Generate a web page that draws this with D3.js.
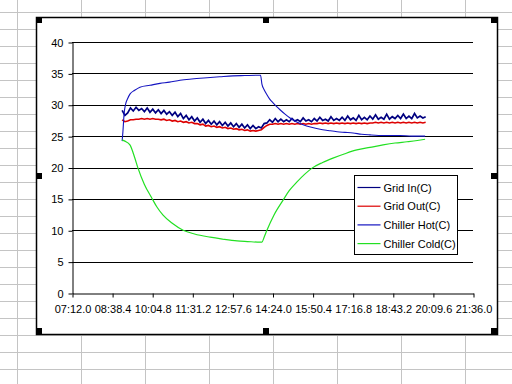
<!DOCTYPE html>
<head>
  <meta charset="utf-8">
  <style>
    body { margin: 0; background: #fff; }
    text { font-family: 'Liberation Sans', Arial, sans-serif; font-size: 11px; fill: black; }
  </style>
</head>
<body>
  <script src="https://cdn.jsdelivr.net/npm/d3@7"></script>
  <script>
    // x axis ticks (hours) and their Excel style labels
    const tickHours = [7.2, 8.64, 10.08, 11.52, 12.96, 14.4, 15.84, 17.28, 18.72, 20.16, 21.6];
    const tickLabels = ['07:12.0', '08:38.4', '10:04.8', '11:31.2', '12:57.6', '14:24.0',
                        '15:50.4', '17:16.8', '18:43.2', '20:09.6', '21:36.0'];
    const yTicks = [0, 5, 10, 15, 20, 25, 30, 35, 40];

    // Grid In / Grid Out share one time base (every 0.1 h from 9.0 to 19.9)
    const gridTime = d3.range(90, 200).map(d => d / 10);
    const gridIn = [
      29.1, 28.3, 28.7, 29.5, 29.0, 29.6, 29.1, 29.4, 28.9, 29.5,
      28.8, 29.3, 28.7, 29.2, 28.6, 29.1, 28.5, 28.9, 28.3, 28.8,
      28.1, 28.6, 27.8, 28.3, 27.6, 28.1, 27.4, 27.9, 27.2, 27.7,
      27.0, 27.5, 26.9, 27.4, 26.8, 27.3, 26.7, 27.2, 26.6, 27.1,
      26.5, 27.0, 26.4, 26.9, 26.3, 26.8, 26.2, 26.7, 26.2, 26.5,
      26.3, 27.0, 27.1, 27.6, 27.2, 27.8, 27.3, 27.7, 27.3, 27.6,
      27.3, 27.8, 27.4, 27.6, 27.3, 27.9, 27.4, 27.6, 27.3, 27.8,
      27.4, 28.0, 27.5, 27.7, 27.4, 28.1, 27.5, 27.8, 27.5, 28.0,
      27.5, 28.2, 27.6, 27.9, 27.5, 28.3, 27.6, 28.0, 27.6, 28.2,
      27.7, 28.4, 27.7, 28.0, 27.7, 28.5, 27.7, 28.1, 27.8, 28.3,
      27.8, 28.5, 27.8, 28.2, 27.8, 28.6, 27.9, 28.2, 27.9, 28.1
    ];
    const gridOut = [
      27.6, 27.3, 27.4, 27.6, 27.6, 27.7, 27.7, 27.8, 27.7, 27.8,
      27.7, 27.8, 27.7, 27.7, 27.6, 27.7, 27.5, 27.6, 27.4, 27.5,
      27.3, 27.4, 27.2, 27.3, 27.1, 27.2, 27.0, 27.0, 26.8, 26.9,
      26.6, 26.7, 26.5, 26.6, 26.4, 26.5, 26.3, 26.4, 26.2, 26.3,
      26.1, 26.2, 26.0, 26.1, 25.9, 26.0, 25.8, 25.9, 25.8, 25.9,
      26.0, 26.4, 26.7, 26.9, 26.9, 27.0, 26.9, 27.0, 26.9, 27.0,
      26.9, 27.0, 26.9, 27.0, 26.9, 27.0, 26.9, 27.0, 26.9, 27.0,
      27.0, 27.1, 27.0, 27.1, 27.0, 27.1, 27.0, 27.1, 27.0, 27.1,
      27.0, 27.1, 27.0, 27.1, 27.0, 27.1, 27.0, 27.1, 27.0, 27.1,
      27.1, 27.2, 27.1, 27.2, 27.1, 27.2, 27.1, 27.2, 27.1, 27.2,
      27.1, 27.2, 27.1, 27.2, 27.1, 27.2, 27.1, 27.2, 27.1, 27.2
    ];

    const hotTime = [9.0, 9.03, 9.07, 9.12, 9.2, 9.28, 9.45, 9.64, 10.0, 10.36, 10.7, 11.08, 11.5,
                     12.05, 12.5, 12.98, 13.4, 13.9, 13.97, 14.02, 14.1, 14.2, 14.3, 14.42, 14.55,
                     14.67, 14.85, 15.03, 15.25, 15.5, 15.8, 16.11, 16.4, 16.72, 17.0, 17.29, 17.6,
                     17.9, 18.4, 18.98, 19.4, 19.88];
    const chillerHot = [24.2, 25.8, 28.5, 30.0, 31.0, 31.7, 32.3, 32.8, 33.1, 33.4, 33.6, 33.9, 34.1,
                        34.3, 34.45, 34.6, 34.65, 34.7, 34.7, 33.3, 32.4, 31.6, 30.9, 30.3, 29.7,
                        29.2, 28.5, 27.9, 27.3, 26.8, 26.4, 26.1, 25.9, 25.7, 25.6, 25.5, 25.3,
                        25.2, 25.1, 25.1, 25.0, 25.0];

    const coldTime = [9.0, 9.1, 9.28, 9.45, 9.57, 9.8, 10.07, 10.25, 10.47, 10.8, 11.19, 11.6, 12.16,
                      12.6, 13.13, 13.5, 13.95, 14.02, 14.1, 14.2, 14.45, 14.78, 15.0, 15.28, 15.55,
                      15.82, 16.2, 16.57, 17.0, 17.43, 17.9, 18.37, 18.8, 19.23, 19.6, 19.88];
    const chillerCold = [24.4, 24.2, 23.6, 21.6, 19.9, 17.3, 15.1, 13.7, 12.4, 11.1, 10.0, 9.4, 8.9,
                         8.6, 8.3, 8.2, 8.1, 8.1, 8.9, 10.0, 12.4, 14.8, 16.3, 17.7, 18.9,
                         19.9, 20.8, 21.5, 22.2, 22.8, 23.2, 23.6, 23.9, 24.1, 24.3, 24.5];

    const seriesNames = ['Grid In(C)', 'Grid Out(C)', 'Chiller Hot(C)', 'Chiller Cold(C)'];
    const seriesColors = ['#000080', '#dd0000', '#1414c0', '#22e022'];

    const width = 512, height = 384;
    const svg = d3.select("body").append("svg")
      .attr("width", width).attr("height", height);

    // spreadsheet cells behind the chart
    const cells = svg.append("g").attr("stroke", "#c4c4c4").attr("stroke-width", 1);
    for (let x = 17; x < width; x += 64)
      cells.append("line").attr("x1", x + 0.5).attr("x2", x + 0.5).attr("y1", 0).attr("y2", height);
    for (let y = 12; y < height; y += 17)
      cells.append("line").attr("x1", 0).attr("x2", width).attr("y1", y + 0.5).attr("y2", y + 0.5);

    // chart area
    svg.append("rect")
      .attr("x", 36.5).attr("y", 17.5).attr("width", 461).attr("height", 317)
      .attr("fill", "white").attr("stroke", "black").attr("stroke-width", 1.5);

    const x = d3.scaleLinear().domain([7.2, 21.6]).range([72, 473]);
    const y = d3.scaleLinear().domain([0, 40]).range([293, 42]);

    // horizontal gridlines
    svg.append("g").selectAll("line")
      .data(yTicks.slice(1)).enter().append("line")
      .attr("x1", 72).attr("x2", 473)
      .attr("y1", d => Math.round(y(d)) + 0.5).attr("y2", d => Math.round(y(d)) + 0.5)
      .attr("stroke", "black");

    const yAxis = svg.append("g")
      .attr("transform", "translate(72.5,0.5)")
      .call(d3.axisLeft(y).tickValues(yTicks).tickSize(4).tickSizeOuter(0).tickPadding(5)
        .tickFormat(d3.format("d")));
    const xAxis = svg.append("g")
      .attr("transform", "translate(0.5," + (Math.round(y(0)) + 0.5) + ")")
      .call(d3.axisBottom(x).tickValues(tickHours).tickSize(4).tickSizeOuter(0).tickPadding(8)
        .tickFormat((d, i) => tickLabels[i]));
    [yAxis, xAxis].forEach(a => {
      a.attr("font-family", null).attr("font-size", null);
      a.selectAll("path, line").attr("stroke", "black");
    });

    // series
    const line = d3.line().x(d => x(d[0])).y(d => y(d[1]));
    const smooth = d3.line().x(d => x(d[0])).y(d => y(d[1])).curve(d3.curveMonotoneX);
    const series = [
      { pts: d3.zip(gridTime, gridIn), gen: line, w: 1.7 },
      { pts: d3.zip(gridTime, gridOut), gen: line, w: 1.6 },
      { pts: d3.zip(hotTime, chillerHot), gen: smooth, w: 1.1 },
      { pts: d3.zip(coldTime, chillerCold), gen: smooth, w: 1.2 }
    ];
    series.forEach((s, i) => {
      svg.append("path")
        .attr("d", s.gen(s.pts))
        .attr("fill", "none")
        .attr("stroke", seriesColors[i])
        .attr("stroke-width", s.w);
    });

    // legend
    const legend = svg.append("g").attr("transform", "translate(354.5,175.5)");
    legend.append("rect").attr("width", 103).attr("height", 79)
      .attr("fill", "white").attr("stroke", "black");
    seriesNames.forEach((name, i) => {
      const ly = 12 + i * 18.7;
      legend.append("line").attr("x1", 3).attr("x2", 26).attr("y1", ly).attr("y2", ly)
        .attr("stroke", seriesColors[i]).attr("stroke-width", 1.2);
      legend.append("text").attr("x", 29).attr("y", ly + 4).text(name);
    });

    // selection handles
    const handles = [[36, 17], [263, 17], [491, 17], [36, 173], [491, 173], [36, 328], [263, 328], [491, 328]];
    svg.append("g").selectAll("rect")
      .data(handles).enter().append("rect")
      .attr("x", d => d[0]).attr("y", d => d[1]).attr("width", 6).attr("height", 6)
      .attr("fill", "black");
  </script>
</body>
